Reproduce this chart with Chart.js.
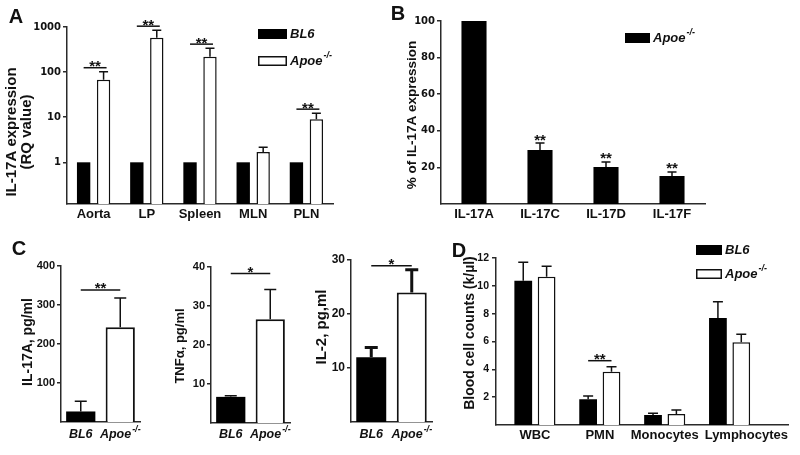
<!DOCTYPE html>
<html><head><meta charset="utf-8">
<script src="https://cdn.jsdelivr.net/npm/chart.js@4/dist/chart.umd.min.js"></script>
<style>
html,body{margin:0;padding:0;background:#fff;width:800px;height:455px;overflow:hidden;position:relative}
</style></head><body>
<script>
// ---------------- DATA ----------------
const catsA = ['Aorta', 'LP', 'Spleen', 'MLN', 'PLN'];
const bl6A = [1, 1, 1, 1, 1];
const apoeA = [68, 580, 220, 1.7, 9];
const apoeErrA = [34, 270, 120, 0.45, 3.3];
const sigA = ['**', '**', '**', '', '**'];
const ticksA = [1, 10, 100, 1000];

const catsB = ['IL-17A', 'IL-17C', 'IL-17D', 'IL-17F'];
const apoeB = [100, 29.5, 20.2, 15.3];
const apoeErrB = [0, 3.8, 2.8, 2.2];
const sigB = ['', '**', '**', '**'];
const ticksB = [20, 40, 60, 80, 100];

const groupsC = ['BL6', 'Apoe'];
const supC = ['', '-/-'];
const titlesC = ['IL-17A, pg/ml', 'TNF\u03b1, pg/ml', 'IL-2, pg,ml'];
const valC1 = [27, 243];   const errC1 = [26, 75];    const sigC1 = '**'; const ticksC1 = [100, 200, 300, 400];
const valC2 = [6.7, 26.6]; const errC2 = [0.3, 7.6];  const sigC2 = '*';  const ticksC2 = [10, 20, 30, 40];
const valC3 = [12, 24];    const errC3 = [1.8, 4.2];  const sigC3 = '*';  const ticksC3 = [10, 20, 30];

const catsD = ['WBC', 'PMN', 'Monocytes', 'Lymphocytes'];
const bl6D = [10.37, 1.85, 0.72, 7.69];
const bl6ErrD = [1.33, 0.23, 0.12, 1.17];
const apoeD = [10.65, 3.83, 0.79, 5.94];
const apoeErrD = [0.75, 0.36, 0.29, 0.58];
const sigD = ['', '**', '', ''];
const ticksD = [2, 4, 6, 8, 10, 12];

// ---------------- STYLE / HELPERS ----------------
const FAM = "'Liberation Sans', Arial, sans-serif";
const FAM2 = "'DejaVu Sans', 'Liberation Sans', sans-serif";
const INK = '#111';
const AX = '#2a2a2a';
Chart.defaults.font.family = FAM;
Chart.defaults.font.weight = 'bold';
Chart.defaults.color = INK;
Chart.defaults.animation = false;

function drawLabel(ctx, t, x, y, font, sup, supFont, align) {
  ctx.textBaseline = 'middle';
  ctx.textAlign = 'left';
  ctx.font = font;
  const w = ctx.measureText(t).width;
  let sw = 0;
  if (sup) { ctx.font = supFont; sw = ctx.measureText(sup).width + 1; }
  let x0 = x;
  if (align === 'center') x0 = x - (w + sw) / 2;
  else if (align === 'right') x0 = x - w - sw;
  ctx.font = font;
  ctx.fillText(t, x0, y);
  if (sup) { ctx.font = supFont; ctx.fillText(sup, x0 + w + 1, y - 5); }
}

const decor = {
  id: 'decor',
  afterDatasetsDraw(chart, args, o) {
    const ctx = chart.ctx, ys = chart.scales.y;
    const items = [];
    ctx.save();
    ctx.strokeStyle = INK; ctx.lineWidth = o.errW; ctx.lineCap = 'butt';
    chart.data.datasets.forEach((ds, di) => {
      const meta = chart.getDatasetMeta(di);
      meta.data.forEach((el, j) => {
        let top = el.y;
        const e = ds.errs ? ds.errs[j] : 0;
        if (e > 0) {
          top = ys.getPixelForValue(ds.vals[j] + e);
          ctx.beginPath();
          ctx.moveTo(el.x, el.y); ctx.lineTo(el.x, top);
          ctx.moveTo(el.x - o.cap / 2, top); ctx.lineTo(el.x + o.cap / 2, top);
          ctx.stroke();
        }
        items.push({ j, x: el.x, top });
      });
    });
    const fs = o.starSize;
    const drawStars = (txt, cx, glyphBottom) => {
      ctx.fillStyle = INK;
      ctx.font = `bold ${fs}px ${FAM}`;
      ctx.textAlign = 'center'; ctx.textBaseline = 'alphabetic';
      ctx.fillText(txt, cx, glyphBottom + 0.43 * fs);
    };
    ctx.lineWidth = o.brW || 1.5;
    if (o.sigMode === 'group' || o.sigMode === 'above') {
      o.sig.forEach((s, j) => {
        if (!s) return;
        const g = items.filter(it => it.j === j);
        const x1 = Math.min(...g.map(i => i.x)), x2 = Math.max(...g.map(i => i.x));
        const top = Math.min(...g.map(i => i.top));
        if (o.sigMode === 'group') {
          const yb = top - o.gap;
          ctx.beginPath(); ctx.moveTo(x1, yb); ctx.lineTo(x2 + o.ext, yb); ctx.stroke();
          drawStars(s, (x1 + x2 + o.ext) / 2, yb - 3);
        } else {
          drawStars(s, x1, top - o.gap);
        }
      });
    } else if (o.sigMode === 'pair') {
      const x1 = items[0].x, x2 = items[1].x;
      const top = Math.min(items[0].top, items[1].top);
      const yb = top - o.gap;
      ctx.beginPath(); ctx.moveTo(x1, yb); ctx.lineTo(x2, yb); ctx.stroke();
      drawStars(o.sig, (x1 + x2) / 2, yb - 3);
    }
    ctx.restore();
  },
  afterDraw(chart, args, o) {
    const ctx = chart.ctx;
    const rx = o.rect[0], ry = o.rect[1];
    ctx.save();
    ctx.fillStyle = INK;
    (o.texts || []).forEach(t => {
      if (t.rot) {
        ctx.save();
        ctx.translate(t.x - rx, t.y - ry);
        ctx.rotate(-Math.PI / 2);
        ctx.font = t.font; ctx.textAlign = 'center'; ctx.textBaseline = 'middle';
        ctx.fillText(t.t, 0, 0);
        ctx.restore();
      } else {
        drawLabel(ctx, t.t, t.x - rx, t.y - ry, t.font, t.sup, t.supFont, t.align || 'center');
      }
    });
    if (o.legend) {
      const L = o.legend;
      chart.data.datasets.forEach((ds, i) => {
        const bx = L.x - rx, by = L.y - ry + i * L.dy;
        ctx.fillStyle = ds.legendFill;
        ctx.fillRect(bx, by, L.w, L.h);
        if (ds.legendFill === '#fff') {
          ctx.strokeStyle = INK; ctx.lineWidth = 1.5;
          ctx.strokeRect(bx + 0.75, by + 0.75, L.w - 1.5, L.h - 1.5);
        }
        ctx.fillStyle = INK;
        drawLabel(ctx, ds.label, bx + L.w + 3, by + L.h / 2, `italic bold 13px ${FAM}`, ds.sup, `italic bold 9px ${FAM}`, 'left');
      });
    }
    if (o.xlab) {
      const xs = chart.scales.x;
      o.xlab.labels.forEach((lab, i) => {
        ctx.fillStyle = INK;
        drawLabel(ctx, lab, xs.getPixelForValue(i), o.xlab.y - ry, `italic bold 12.5px ${FAM}`, o.xlab.sups[i], `italic bold 9px ${FAM}`, 'center');
      });
    }
    if (o.xcat) {
      // category labels under each group; keep them from overlapping and inside the axis
      const xs = chart.scales.x;
      const font = `bold 13px ${FAM}`;
      ctx.font = font; ctx.fillStyle = INK; ctx.textAlign = 'center'; ctx.textBaseline = 'middle';
      let prevRight = -1e9;
      o.xcat.labels.forEach((lab, i) => {
        const w = ctx.measureText(lab).width;
        let cx = xs.getPixelForValue(i + 1);
        cx = Math.max(cx, prevRight + 8 + w / 2);
        cx = Math.min(cx, chart.chartArea.right - w / 2);
        ctx.fillText(lab, cx, o.xcat.y - ry);
        prevRight = cx + w / 2;
      });
    }
    ctx.restore();
  }
};

function yScale(extra) {
  return Object.assign({
    type: 'linear',
    grid: { drawOnChartArea: false, drawTicks: true, tickLength: 4, color: AX, lineWidth: 1.5 },
    border: { color: AX, width: 1.5 },
    ticks: { font: { size: 10, weight: 'bold', family: FAM }, color: INK, padding: 2 }
  }, extra);
}
function xScale(extra) {
  return Object.assign({
    type: 'category',
    grid: { display: false, drawTicks: false },
    border: { color: AX, width: 1.5 },
    ticks: { font: { size: 13, weight: 'bold', family: FAM }, color: INK, padding: 3, maxRotation: 0, autoSkip: false }
  }, extra);
}

function panel(rect, area, cfg) {
  const wrap = document.createElement('div');
  wrap.style.cssText = `position:absolute;left:${rect[0]}px;top:${rect[1]}px;width:${rect[2]}px;height:${rect[3]}px`;
  const cv = document.createElement('canvas');
  wrap.appendChild(cv); document.body.appendChild(wrap);
  const yW = area[0] - rect[0], xH = rect[1] + rect[3] - area[3];
  const o = cfg.options;
  o.responsive = true; o.maintainAspectRatio = false; o.devicePixelRatio = 1; o.animation = false;
  o.layout = { padding: { left: 0, top: area[1] - rect[1], right: rect[0] + rect[2] - area[2], bottom: 0 } };
  o.scales.y.afterFit = s => { s.width = yW; };
  o.scales.x.afterFit = s => { s.height = xH; };
  o.plugins = o.plugins || {};
  o.plugins.legend = { display: false };
  o.plugins.tooltip = { enabled: false };
  o.plugins.decor.rect = rect;
  cfg.plugins = [decor];
  return new Chart(cv, cfg);
}

// ---------------- PANEL A ----------------
panel([0, 0, 400, 230], [67, 27, 333, 204], {
  type: 'bar',
  data: {
    labels: catsA,
    datasets: [
      { label: 'BL6', data: bl6A, vals: bl6A, backgroundColor: '#000', borderWidth: 0, legendFill: '#000' },
      { label: 'Apoe', sup: '-/-', data: apoeA, vals: apoeA, errs: apoeErrA, backgroundColor: '#fff', borderColor: INK, borderWidth: 1.5, legendFill: '#fff' }
    ]
  },
  options: {
    datasets: { bar: { categoryPercentage: 0.75, barPercentage: 0.67 } },
    scales: {
      x: xScale({}),
      y: yScale({
        type: 'logarithmic', min: 0.119, max: 1000,
        afterBuildTicks: s => { s.ticks = ticksA.map(v => ({ value: v })); },
        ticks: { font: { size: 10, weight: 'bold', family: FAM2 }, color: INK, padding: 2, callback: v => String(v) }
      })
    },
    plugins: {
      decor: {
        errW: 1.5, cap: 9, starSize: 15, sigMode: 'group', sig: sigA, gap: 4, ext: 3,
        legend: { x: 258, y: 29, dy: 27, w: 29, h: 10 },
        texts: [
          { t: 'A', x: 16, y: 17, font: `bold 20px ${FAM}` },
          { t: 'IL-17A expression', x: 12, y: 132, rot: true, font: `bold 15px ${FAM}` },
          { t: '(RQ value)', x: 27, y: 132, rot: true, font: `bold 15px ${FAM}` }
        ]
      }
    }
  }
});

// ---------------- PANEL B ----------------
panel([390, 0, 410, 230], [441, 21, 705, 204], {
  type: 'bar',
  data: {
    labels: catsB,
    datasets: [
      { label: 'Apoe', sup: '-/-', data: apoeB, vals: apoeB, errs: apoeErrB, backgroundColor: '#000', borderWidth: 0, legendFill: '#000' }
    ]
  },
  options: {
    datasets: { bar: { categoryPercentage: 1, barPercentage: 0.38 } },
    scales: {
      x: xScale({}),
      y: yScale({
        min: 0, max: 100,
        afterBuildTicks: s => { s.ticks = ticksB.map(v => ({ value: v })); },
        ticks: { font: { size: 10, weight: 'bold', family: FAM2 }, color: INK, padding: 2 }
      })
    },
    plugins: {
      decor: {
        errW: 1.5, cap: 9, starSize: 15, sigMode: 'above', sig: sigB, gap: 5,
        legend: { x: 625, y: 33, dy: 0, w: 25, h: 10 },
        texts: [
          { t: 'B', x: 398, y: 14, font: `bold 20px ${FAM}` },
          { t: '% of IL-17A expression', x: 412, y: 115, rot: true, font: `bold 13.5px ${FAM}` }
        ]
      }
    }
  }
});

// ---------------- PANEL C ----------------
function panelC(rect, area, vals, errs, sig, ticks, max, gap, errW, cap, tickSize, texts) {
  panel(rect, area, {
    type: 'bar',
    data: {
      labels: groupsC,
      datasets: [{ label: 'C', data: vals, vals: vals, errs: errs,
        backgroundColor: ['#000', '#fff'], borderColor: INK, borderWidth: [0, 2] }]
    },
    options: {
      datasets: { bar: { categoryPercentage: 1, barPercentage: 0.74 } },
      scales: {
        x: xScale({ ticks: { display: false } }),
        y: yScale({ min: 0, max: max, afterBuildTicks: s => { s.ticks = ticks.map(v => ({ value: v })); },
          ticks: { font: { size: tickSize, weight: 'bold', family: FAM }, color: INK, padding: 2 } })
      },
      plugins: {
        decor: {
          errW: errW, cap: cap, starSize: 15, sigMode: 'pair', sig: sig, gap: gap,
          xlab: { labels: groupsC, sups: supC, y: 435 },
          texts: texts
        }
      }
    }
  });
}
panelC([0, 230, 150, 225], [61, 266, 140, 422], valC1, errC1, sigC1, ticksC1, 400, 8, 1.5, 12, 11, [
  { t: 'C', x: 19, y: 249, font: `bold 20px ${FAM}` },
  { t: titlesC[0], x: 28, y: 342, rot: true, font: `bold 14px ${FAM}` }
]);
panelC([150, 230, 145, 225], [211, 267, 290, 423], valC2, errC2, sigC2, ticksC2, 40, 16, 1.5, 12, 11, [
  { t: titlesC[1], x: 180, y: 346, rot: true, font: `bold 13px ${FAM}` }
]);
panelC([295, 230, 145, 225], [351, 260, 432, 422], valC3, errC3, sigC3, ticksC3, 30, 4, 3, 13, 12, [
  { t: titlesC[2], x: 322, y: 327, rot: true, font: `bold 15px ${FAM}` }
]);

// ---------------- PANEL D ----------------
panel([445, 230, 355, 225], [496, 258, 788, 425], {
  type: 'bar',
  data: {
    datasets: [
      { label: 'BL6', data: bl6D.map((v, i) => ({ x: i + 1, y: v })), vals: bl6D, errs: bl6ErrD, backgroundColor: '#000', borderWidth: 0, legendFill: '#000' },
      { label: 'Apoe', sup: '-/-', data: apoeD.map((v, i) => ({ x: i + 1, y: v })), vals: apoeD, errs: apoeErrD, backgroundColor: '#fff', borderColor: INK, borderWidth: 1.5, legendFill: '#fff' }
    ]
  },
  options: {
    datasets: { bar: { categoryPercentage: 0.72, barPercentage: 0.76 } },
    scales: {
      x: xScale({
        type: 'linear', min: 0.4, max: 4.9, offset: false,
        afterBuildTicks: s => { s.ticks = catsD.map((c, i) => ({ value: i + 1 })); },
        ticks: { display: false }
      }),
      y: yScale({
        min: 0, max: 12,
        afterBuildTicks: s => { s.ticks = ticksD.map(v => ({ value: v })); },
        ticks: { font: { size: 10.5, weight: 'bold', family: FAM }, color: INK, padding: 3 }
      })
    },
    plugins: {
      decor: {
        errW: 1.5, cap: 10, starSize: 15, sigMode: 'group', sig: sigD, gap: 6, ext: 0,
        legend: { x: 696, y: 245, dy: 24, w: 26, h: 10 },
        xcat: { labels: catsD, y: 435 },
        texts: [
          { t: 'D', x: 459, y: 251, font: `bold 20px ${FAM}` },
          { t: 'Blood cell counts (k/\u00b5l)', x: 470, y: 333, rot: true, font: `bold 14px ${FAM}` }
        ]
      }
    }
  }
});
</script>
</body></html>
